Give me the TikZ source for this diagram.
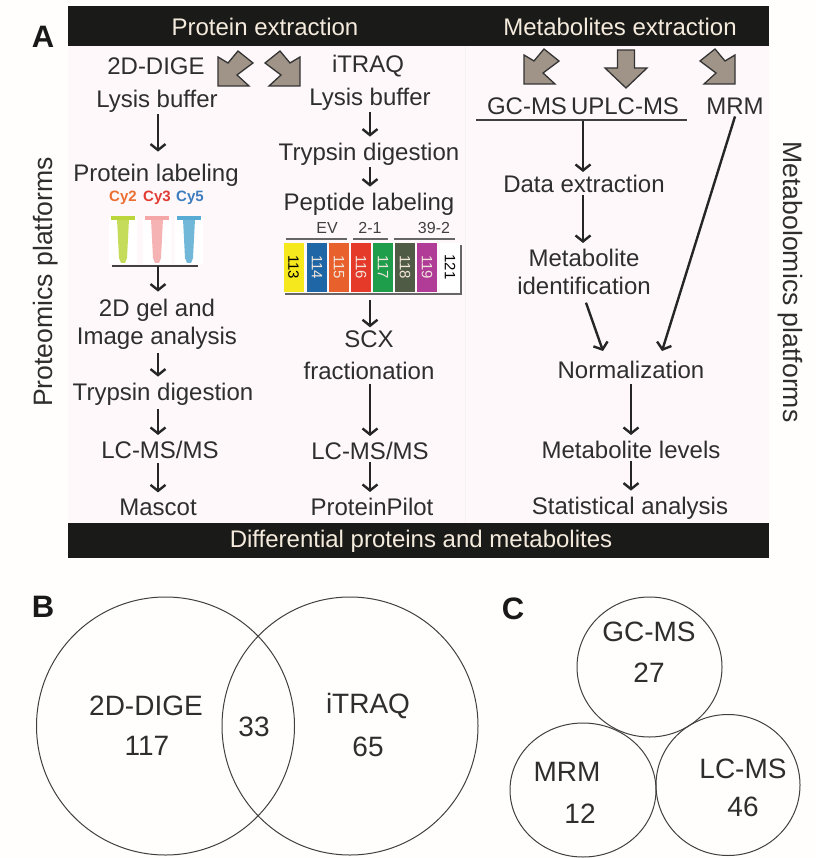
\documentclass[tikz,border=0pt]{standalone}
\usepackage{fontspec}
\setmainfont{Liberation Sans}
\usetikzlibrary{arrows.meta,shapes.geometric}
\definecolor{pagetint}{HTML}{FFFEFC}
\definecolor{barblack}{HTML}{1A1A18}
\definecolor{panelpink}{HTML}{FEF8FA}
\definecolor{blockgray}{HTML}{A09488}
\definecolor{bartint}{HTML}{F5EBDD}
\tikzset{
    steptext/.style={font=\fontsize{24}{28}\selectfont, text=black!82, align=center, inner sep=2pt},
    bartext/.style={font=\fontsize{24}{28}\selectfont, text=bartint},
    sidetext/.style={font=\fontsize{26.6}{30}\selectfont, text=black!82},
    bignum/.style={font=\fontsize{28}{32}\selectfont, text=black!82},
    paneltag/.style={font=\fontsize{31}{34}\bfseries\selectfont, text=black!90},
    cytext/.style={font=\fontsize{15}{17}\bfseries\selectfont},
    flow/.style={-{Straight Barb[length=6pt,width=15pt,line width=2.4pt]}, line width=2.4pt, black!85, shorten >=4pt},
    venn/.style={draw=black!75, line width=1pt, ellipse, inner sep=0pt},
    blockdown/.pic={\draw[draw=black!80, line width=1.3pt, fill=blockgray]
        (-8.5,0) -- (8.5,0) -- (8.5,18) -- (21,18) -- (0,38) -- (-21,18) -- (-8.5,18) -- cycle;},
    blockdiag/.pic={\draw[draw=black!80, line width=1.3pt, fill=blockgray]
        (0,0) -- (31,0) -- (19,-11) -- (35,-23) -- (20,-35) -- (10,-23) -- (0,-29) -- cycle;},
}
\begin{document}
\begin{tikzpicture}[x=1pt,y=-1pt]
    \useasboundingbox (0,0) rectangle (816,858);
    % Hintergrund:
    \fill[pagetint] (0,0) rectangle (816,858);
    \fill[panelpink] (68,46) rectangle (769,525);
    \draw[black!5, line width=1pt] (465,46) -- (465,525);
    % Balken:
    \fill[barblack] (68,6) rectangle (769,46.5);
    \fill[barblack] (68,523) rectangle (769,558);
    \node[bartext] (protbar) at (265,27) {Protein extraction};
    \node[bartext] (metabar) at (620,27) {Metabolites extraction};
    \node[bartext] (diffbar) at (421,541) {Differential proteins and metabolites};
    \node[paneltag] (tagA) at (43,37) {A};
    \node[paneltag] (tagB) at (43,607) {B};
    \node[paneltag] (tagC) at (513,609) {C};
    \node[sidetext, rotate=90] (protside) at (46,282) {Proteomics platforms};
    \node[sidetext, rotate=-90] (metaside) at (790,282) {Metabolomics platforms};
    % Blockpfeile:
    \pic at (218,86) {blockdiag};
    \pic[xscale=-1] at (300,86) {blockdiag};
    \pic at (524,84) {blockdiag};
    \pic at (626,50) {blockdown};
    \pic[xscale=-1] at (735,84) {blockdiag};
    % 2D-DIGE:
    \coordinate (colA) at (158,0);
    \node[steptext] (dige) at (156,66) {2D-DIGE};
    \node[steptext] (lysisA) at (157,101) {Lysis buffer};
    \node[steptext] (labelA) at (156,175) {Protein labeling};
    \coordinate (baseA) at (158,266);
    \node[steptext] (gelA) at (157,324) {2D gel and\\Image analysis};
    \node[steptext] (trypA) at (163,394) {Trypsin digestion};
    \node[steptext] (lcA) at (160,450) {LC-MS/MS};
    \node[steptext] (mascot) at (158,507) {Mascot};
    \draw[flow, shorten >=10pt] (colA |- lysisA.south) -- (colA |- labelA.north);
    \draw[black!75, line width=1.5pt] (112,266) -- (198,266);
    \draw[flow, shorten >=5pt] (baseA) -- (colA |- gelA.north);
    \draw[flow, shorten <=2pt] (colA |- gelA.south) -- (colA |- trypA.north);
    \draw[flow, shorten <=2pt] (colA |- trypA.south) -- (colA |- lcA.north);
    \draw[flow, shorten <=2pt] (colA |- lcA.south) -- (colA |- mascot.north);
    % Cy-Farben:
    \node[cytext, text={rgb,255:red,235;green,110;blue,50}] (cytwo) at (123,198) {Cy2};
    \node[cytext, text={rgb,255:red,225;green,60;blue,50}] (cythree) at (157,198) {Cy3};
    \node[cytext, text={rgb,255:red,60;green,125;blue,190}] (cyfive) at (190,198) {Cy5};
    \definecolor{tubegreen}{HTML}{BAD63C}
    \definecolor{tubepink}{HTML}{F5A6A6}
    \definecolor{tubeblue}{HTML}{58ABD2}
    \foreach \tx/\tc in {123/tubegreen, 157/tubepink, 189/tubeblue} {
        \fill[white] (\tx-14,218) rectangle (\tx+14,264);
        \fill[\tc, opacity=0.85] (\tx-6,219) -- (\tx+6,219) -- (\tx+4,258) -- (\tx+2,263) -- (\tx-2,263) -- (\tx-4,258) -- cycle;
        \fill[\tc] (\tx-12,216) rectangle (\tx+12,220.5);
    }
    % iTRAQ:
    \coordinate (colB) at (370,0);
    \node[steptext] (itraq) at (368,66) {iTRAQ};
    \node[steptext] (lysisB) at (370,99) {Lysis buffer};
    \node[steptext] (trypB) at (369,154) {Trypsin digestion};
    \node[steptext] (labelB) at (369,204) {Peptide labeling};
    \node[steptext] (scx) at (369,355) {SCX\\[4pt]fractionation};
    \node[steptext] (lcB) at (370,451) {LC-MS/MS};
    \node[steptext] (pilot) at (372,507) {ProteinPilot};
    \coordinate (plateB) at (370,300);
    \draw[flow] (colB |- lysisB.south) -- (colB |- trypB.north);
    \draw[flow] (colB |- trypB.south) -- (colB |- labelB.north);
    \draw[flow, shorten >=1pt] (plateB) -- (colB |- scx.north);
    \draw[flow, shorten <=2pt] (colB |- scx.south) -- (colB |- lcB.north);
    \draw[flow] (colB |- lcB.south) -- (colB |- pilot.north);
    % Reporter:
    \definecolor{repyellow}{HTML}{F5E81C}
    \definecolor{repblue}{HTML}{1F66A6}
    \definecolor{reporange}{HTML}{E8602C}
    \definecolor{repred}{HTML}{E53A2A}
    \definecolor{repgreen}{HTML}{1E9E4B}
    \definecolor{repolive}{HTML}{4F5B44}
    \definecolor{repviolet}{HTML}{B03C98}
    \definecolor{reptext}{HTML}{F2E6DC}
    \foreach \px/\pc/\pt/\pn in {283.5/repyellow/black/113, 307/repblue/reptext/114,
        329/reporange/reptext/115, 351/repred/reptext/116, 373/repgreen/reptext/117,
        395/repolive/reptext/118, 417/repviolet/reptext/119, 440/white/black/121} {
        \fill[\pc] (\px,243) rectangle (\px+20,292);
        \node[font=\fontsize{15}{17}\selectfont, text=\pt, rotate=-90] (plate\pn) at (\px+10,267) {\pn};
    }
    \draw[black!60, line width=2pt] (461,245) -- (461,294) -- (285,294);
    \foreach \lx/\rx/\gx/\gt in {286/347/327/EV, 353/388/370/2-1, 394/455/434/39-2} {
        \draw[black!60, line width=1.2pt] (\lx,239) -- (\rx,239);
        \node[font=\fontsize{16}{18}\selectfont, text=black!75] (group\gt) at (\gx,228) {\gt};
    }
    % Metabolite:
    \coordinate (colC) at (583,0);
    \coordinate (colD) at (631,0);
    \node[steptext] (gcms) at (527,106) {GC-MS};
    \node[steptext] (uplc) at (625,106) {UPLC-MS};
    \node[steptext] (mrm) at (735,106) {MRM};
    \draw[black!75, line width=1.5pt] (476,120) -- (687,120);
    \coordinate (baseC) at (583,121);
    \coordinate (normleft) at (603,351);
    \coordinate (normright) at (662,351);
    \node[steptext] (extract) at (584,184) {Data extraction};
    \node[steptext] (ident) at (584,272) {Metabolite\\identification};
    \node[steptext] (norm) at (631,370) {Normalization};
    \node[steptext] (levels) at (631,450) {Metabolite levels};
    \node[steptext] (stats) at (630,508) {Statistical analysis};
    \draw[flow, shorten >=1pt] (baseC) -- (colC |- extract.north);
    \draw[flow] (colC |- extract.south) -- (colC |- ident.north);
    \draw[flow, shorten <=6pt, shorten >=0pt] (ident.south) -- (normleft);
    \draw[flow, shorten >=0pt] (mrm.south) -- (normright);
    \draw[flow, shorten <=3pt] (colD |- norm.south) -- (colD |- levels.north);
    \draw[flow] (colD |- levels.south) -- (colD |- stats.north);
    % Venn B:
    \node[venn, minimum width=258pt, minimum height=258pt] (digeset) at (165.5,726) {};
    \node[venn, minimum width=256pt, minimum height=258pt] (itraqset) at (350,726) {};
    \node[bignum] (digename) at (146,706) {2D-DIGE};
    \node[bignum] (digenum) at (147,746) {117};
    \node[bignum] (bothnum) at (254,727) {33};
    \node[bignum] (itraqname) at (368,706) {iTRAQ};
    \node[bignum] (itraqnum) at (368,747) {65};
    % Venn C:
    \node[venn, minimum width=145pt, minimum height=140pt] (gcset) at (649.5,667) {};
    \node[venn, minimum width=146pt, minimum height=134pt] (mrmset) at (583,790) {};
    \node[venn, minimum width=144pt, minimum height=141pt] (lcset) at (728,785) {};
    \node[bignum] (gcname) at (649,632) {GC-MS};
    \node[bignum] (gcnum) at (649,673) {27};
    \node[bignum] (mrmname) at (567,772) {MRM};
    \node[bignum] (mrmnum) at (580,814) {12};
    \node[bignum] (lcname) at (743,769) {LC-MS};
    \node[bignum] (lcnum) at (743,807) {46};
\end{tikzpicture}
\end{document}
